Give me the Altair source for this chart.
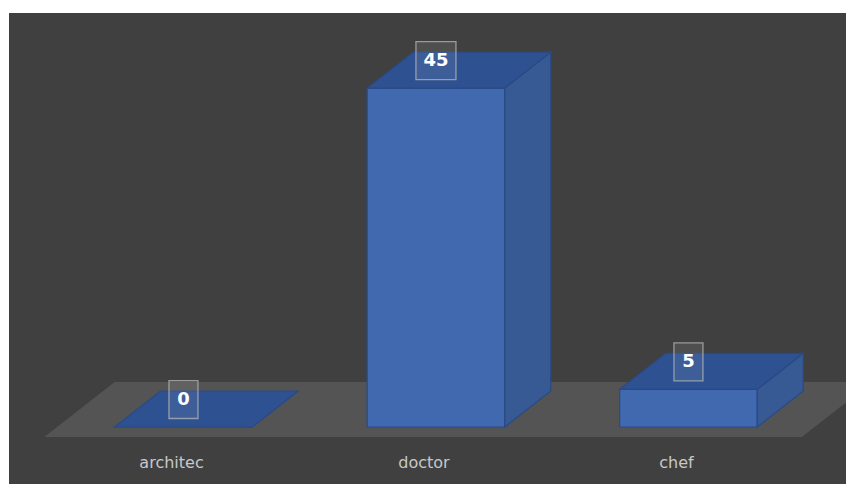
import altair as alt
import pandas as pd

categories = ["architec", "doctor", "chef"]
values = [0, 45, 5]

# geometry constants (in scale units)
BAR_W = 0.545          # bar width in category units
DEPTH_X = 0.182        # oblique depth offset, category units
DEPTH_Y = 4.78         # oblique depth offset, value units
FLOOR_F0, FLOOR_F1 = -0.28, 1.25

XDOM = [-0.691, 2.624]
YDOM = [-7.57, 54.98]

xs = alt.Scale(domain=XDOM, nice=False, zero=False)
ys = alt.Scale(domain=YDOM, nice=False, zero=False)

floor_df = pd.DataFrame({
    "v": [FLOOR_F0 * DEPTH_Y, FLOOR_F1 * DEPTH_Y],
    "xa": [-0.5 + FLOOR_F0 * DEPTH_X, -0.5 + FLOOR_F1 * DEPTH_X],
    "xb": [2.5 + FLOOR_F0 * DEPTH_X, 2.5 + FLOOR_F1 * DEPTH_X],
})

front_rows, lab_rows, box_rows = [], [], []
layers_top, layers_side = [], []
for i, (c, v) in enumerate(zip(categories, values)):
    l, r = i - BAR_W / 2, i + BAR_W / 2
    front_rows.append({"cat": c, "x": l, "x2": r, "y": 0, "y2": v})
    top_rows = [
        {"cat": c, "v": v, "xa": l, "xb": r},
        {"cat": c, "v": v + DEPTH_Y, "xa": l + DEPTH_X, "xb": r + DEPTH_X},
    ]
    layers_top.append(pd.DataFrame(top_rows))
    if v > 0:
        side_rows = [
            {"cat": c, "u": r, "y": 0, "y2": v},
            {"cat": c, "u": r + DEPTH_X, "y": DEPTH_Y, "y2": v + DEPTH_Y},
        ]
        layers_side.append(pd.DataFrame(side_rows))
    lab_rows.append({"cat": c, "u": i + FLOOR_F0 * DEPTH_X * 0.93, "v": -DEPTH_Y})
    txt = str(v)
    wpx = 11 * len(txt) + 18
    hw = wpx / 2 / 252.5
    box_rows.append({"cat": c, "txt": txt, "xc": i, "x": i - hw, "x2": i + hw,
                     "y": v + 3.65 - 2.52, "y2": v + 3.65 + 2.52, "yc": v + 3.65})

front_df = pd.DataFrame(front_rows)
lab_df = pd.DataFrame(lab_rows)
box_df = pd.DataFrame(box_rows)

EDGE = "#2A4A85"

floor = alt.Chart(floor_df).mark_area(orient="horizontal", color="#545454").encode(
    y=alt.Y("v:Q", scale=ys, axis=None),
    x=alt.X("xa:Q", scale=xs, axis=None),
    x2="xb:Q",
)

front = alt.Chart(front_df).mark_rect(color="#4169B0", stroke=EDGE, strokeWidth=1.2).encode(
    x=alt.X("x:Q", scale=xs, axis=None), x2="x2:Q",
    y=alt.Y("y:Q", scale=ys, axis=None), y2="y2:Q",
)

sides = [
    alt.Chart(d).mark_area(orient="vertical", color="#375A94", stroke=EDGE, strokeWidth=1.2).encode(
        x=alt.X("u:Q", scale=xs, axis=None),
        y=alt.Y("y:Q", scale=ys, axis=None), y2="y2:Q",
    )
    for d in layers_side
]

tops = [
    alt.Chart(d).mark_area(orient="horizontal", color="#2D5191", stroke=EDGE, strokeWidth=1.2).encode(
        y=alt.Y("v:Q", scale=ys, axis=None),
        x=alt.X("xa:Q", scale=xs, axis=None), x2="xb:Q",
    )
    for d in layers_top
]

boxes = alt.Chart(box_df).mark_rect(fill="#ffffff", fillOpacity=0.08, stroke="#b0b0b0", strokeOpacity=0.8, strokeWidth=1.3).encode(
    x=alt.X("x:Q", scale=xs, axis=None), x2="x2:Q",
    y=alt.Y("y:Q", scale=ys, axis=None), y2="y2:Q",
)

box_text = alt.Chart(box_df).mark_text(color="white", fontSize=18, fontWeight="bold", font="DejaVu Sans").encode(
    x=alt.X("xc:Q", scale=xs, axis=None),
    y=alt.Y("yc:Q", scale=ys, axis=None),
    text="txt:N",
)

labels = alt.Chart(lab_df).mark_text(color="#c8c8c8", fontSize=16, font="DejaVu Sans").encode(
    x=alt.X("u:Q", scale=xs, axis=None),
    y=alt.Y("v:Q", scale=ys, axis=None),
    text="cat:N",
)

chart = alt.layer(floor, front, *sides, *tops, boxes, box_text, labels).properties(
    width=837, height=471,
    background="white",
    padding={"left": 1, "top": 5, "right": 0, "bottom": 0},
    autosize=alt.AutoSizeParams(type="none"),
).configure_view(fill="#404040", stroke=None, clip=True)

chart.save("out.html", embed_options={"renderer": "svg", "actions": False})
